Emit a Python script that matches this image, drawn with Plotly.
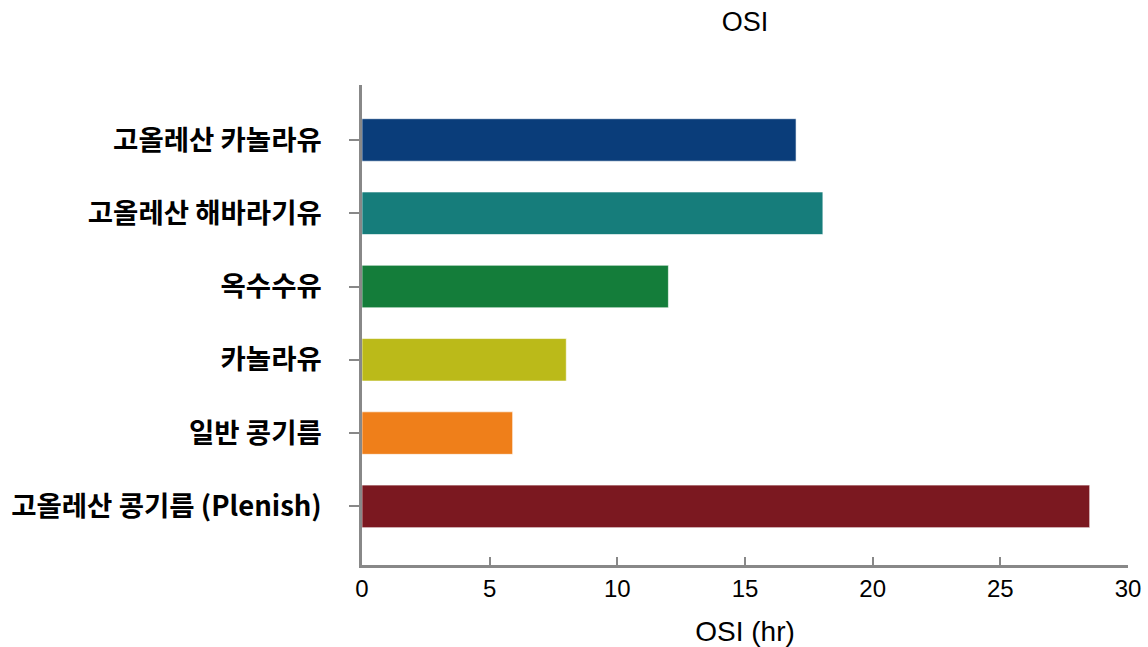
import plotly.graph_objects as go

categories = ["고올레산 카놀라유", "고올레산 해바라기유", "옥수수유", "카놀라유", "일반 콩기름", "고올레산 콩기름 (Plenish)"]
values = [17.0, 18.05, 12.0, 8.0, 5.9, 28.5]
colors = ["#0a3d7a", "#167d7b", "#147d3a", "#bbba19", "#ef7f1a", "#7b1820"]
x_ticks = [0, 5, 10, 15, 20, 25, 30]

# bottom-to-top order for plotting
cats_plot = categories[::-1]
vals_plot = values[::-1]
cols_plot = colors[::-1]

fig = go.Figure(go.Bar(
    x=vals_plot, y=cats_plot, orientation="h",
    marker=dict(color=cols_plot, line=dict(color="rgba(255,255,255,0.6)", width=1)),
    width=0.58,
))

fig.update_layout(
    width=1148, height=647,
    margin=dict(l=362, r=20, t=85, b=82),
    paper_bgcolor="white", plot_bgcolor="white",
    showlegend=False,
    title=dict(text="OSI", x=(362 + 1128) / 2 / 1148, xanchor="center", y=1 - 22 / 647, yanchor="middle",
               font=dict(family="Liberation Sans, Noto Sans CJK KR", size=27, color="black")),
    font=dict(family="Noto Sans CJK KR, Liberation Sans", color="black"),
)
fig.update_xaxes(
    range=[0, 30], tickvals=x_ticks, ticktext=[str(t) for t in x_ticks],
    showline=True, linecolor="#888888", linewidth=2.5,
    ticks="inside", ticklen=8, tickcolor="#888888", tickwidth=1.5,
    showgrid=False, zeroline=False, automargin=False,
    tickfont=dict(size=24, color="black", family="Liberation Sans, Noto Sans CJK KR"),
    title=dict(text="OSI (hr)", font=dict(size=28, color="black", family="Liberation Sans, Noto Sans CJK KR"), standoff=22),
)
fig.update_yaxes(
    type="category", categoryorder="array", categoryarray=cats_plot,
    range=[-0.8, 5.75],
    showline=True, linecolor="#888888", linewidth=2.5,
    ticks="outside", ticklen=10, tickcolor="#888888", tickwidth=1.5,
    showgrid=False, zeroline=False, automargin=False,
    tickfont=dict(size=27.5, color="black", family="Noto Sans CJK KR", weight="bold"),
    ticklabelstandoff=22,
)

fig.write_html("out.html")
